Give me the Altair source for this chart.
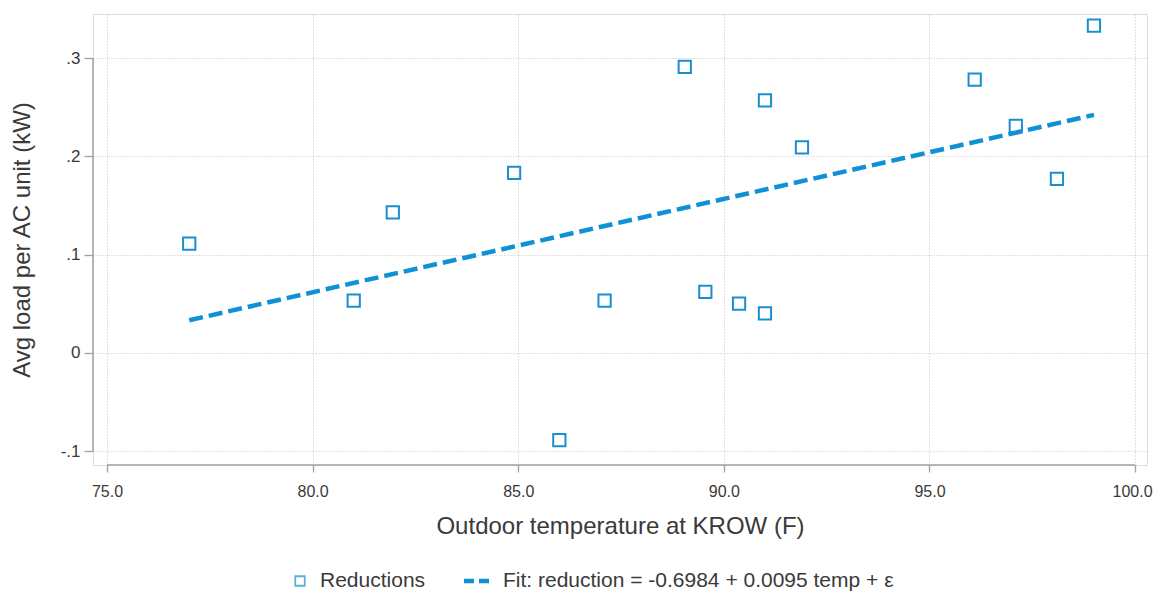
import altair as alt
import pandas as pd

# ---- data ----
temp = [77.0, 81.0, 81.95, 84.9, 86.0, 87.1, 89.05, 89.55, 90.37, 91.0, 91.0, 91.9, 96.1, 97.1, 98.1, 99.0]
reduction = [0.111, 0.053, 0.143, 0.183, -0.089, 0.053, 0.291, 0.062, 0.050, 0.040, 0.257, 0.209, 0.278, 0.231, 0.177, 0.333]

fit_temp = [77.0, 99.0]
fit_value = [0.0331, 0.2421]

x_ticks = [75, 80, 85, 90, 95, 100]
y_ticks = [-0.1, 0, 0.1, 0.2, 0.3]

legend_labels = ["Reductions", "Fit: reduction = -0.6984 + 0.0095 temp + ε"]

x_title = "Outdoor temperature at KROW (F)"
y_title = "Avg load per AC unit (kW)"

FONT = "Liberation Sans, Arial, sans-serif"
BLUE = "#1a8fd0"
LINE_BLUE = "#0f91d6"
TEXT = "#3a3a3a"
AXIS = "#a0a0a0"
GRID = "#c4c4c4"

W, H = 1054, 451

pts = pd.DataFrame({"temp": temp, "reduction": reduction})
fit = pd.DataFrame({"temp": fit_temp, "reduction": fit_value})

xscale = alt.Scale(domain=[74.66, 100.29], nice=False, zero=False)
yscale = alt.Scale(domain=[-0.1142, 0.3448], nice=False, zero=False)

label_expr = ("datum.value == 0 ? '0' : (datum.value < 0 ? '-' + replace(format(-datum.value, '.1f'), '0.', '.')"
              " : replace(format(datum.value, '.1f'), '0.', '.'))")

xaxis = alt.Axis(values=x_ticks, format=".1f", title=x_title, domain=False,
                 grid=True, gridColor=GRID, gridDash=[1, 2], gridWidth=1,
                 tickSize=7, tickColor=AXIS, tickWidth=1.3,
                 labelFont=FONT, labelFontSize=16, labelColor=TEXT, labelPadding=11,
                 labelOffset={"condition": {"test": "datum.value == 100", "value": -3}, "value": 0},
                 titleFont=FONT, titleFontSize=24, titleFontWeight="normal", titleColor=TEXT,
                 titlePadding=15)
yaxis = alt.Axis(values=y_ticks, labelExpr=label_expr, title=y_title, domain=False,
                 grid=True, gridColor=GRID, gridDash=[1, 2], gridWidth=1,
                 tickSize=9, tickColor=AXIS, tickWidth=1.3,
                 labelFont=FONT, labelFontSize=17, labelColor=TEXT, labelPadding=4,
                 titleFont=FONT, titleFontSize=24, titleFontWeight="normal", titleColor=TEXT,
                 titlePadding=26)

points = alt.Chart(pts).mark_point(shape="square", filled=False, size=150, strokeWidth=2,
                                   color=BLUE, opacity=1).encode(
    x=alt.X("temp:Q", scale=xscale, axis=xaxis),
    y=alt.Y("reduction:Q", scale=yscale, axis=yaxis),
)

line = alt.Chart(fit).mark_line(color=LINE_BLUE, strokeWidth=4.5, strokeDash=[14, 6]).encode(
    x=alt.X("temp:Q", scale=xscale),
    y=alt.Y("reduction:Q", scale=yscale),
)

# axis lines spanning only the labelled tick range
yline = alt.Chart(pd.DataFrame({"lo": [min(y_ticks)], "hi": [max(y_ticks)]})).mark_rule(
    color=AXIS, strokeWidth=1.5).encode(
    x=alt.value(0), y=alt.Y("lo:Q", scale=yscale), y2="hi:Q")
xline = alt.Chart(pd.DataFrame({"lo": [min(x_ticks)], "hi": [max(x_ticks)]})).mark_rule(
    color=AXIS, strokeWidth=1.5).encode(
    y=alt.value(H), x=alt.X("lo:Q", scale=xscale), x2="hi:Q")

# legend
LEG_Y = H + 116
leg_sq = alt.Chart(pd.DataFrame({"k": [0]})).mark_point(
    shape="square", filled=False, size=90, strokeWidth=1.8, color=BLUE).encode(
    x=alt.value(207), y=alt.value(LEG_Y))
leg_dash = alt.Chart(pd.DataFrame({"k": [0]})).mark_rule(
    color=LINE_BLUE, strokeWidth=4.5, strokeDash=[10, 5]).encode(
    x=alt.value(371), x2=alt.value(396), y=alt.value(LEG_Y))
leg_text = alt.Chart(pd.DataFrame({"label": legend_labels, "px": [227, 410]})).mark_text(
    align="left", baseline="middle", font=FONT, fontSize=21, color=TEXT).encode(
    x=alt.X("px:Q", scale=None), y=alt.value(LEG_Y), text="label:N")

chart = alt.layer(xline, yline, line, points, leg_sq, leg_dash, leg_text).properties(
    width=W, height=H,
    autosize=alt.AutoSizeParams(type="none"),
    padding={"left": 85, "top": 6, "right": 6, "bottom": 126},
).configure_view(stroke=None).configure(background="white")

chart.save("out.html", embed_options={"renderer": "svg", "actions": False})
